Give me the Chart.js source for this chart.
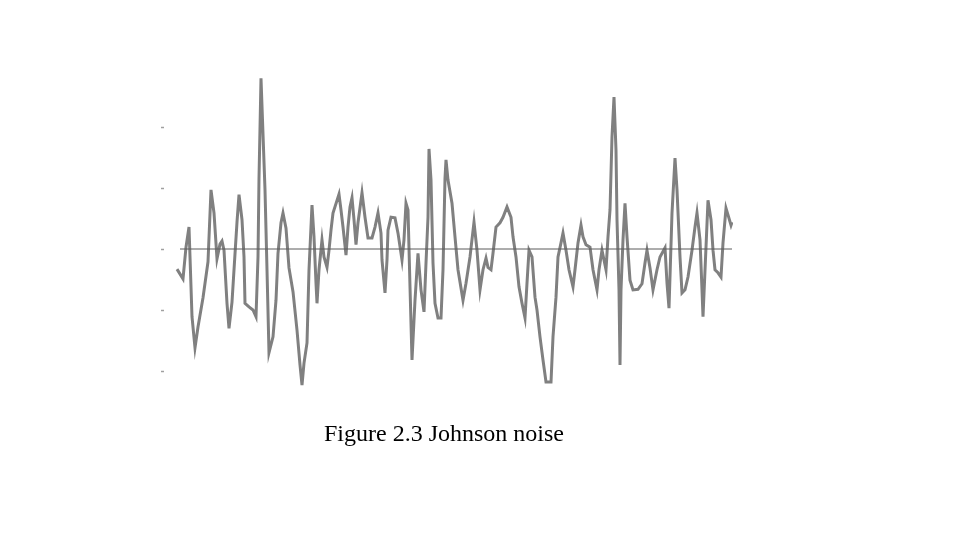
<!DOCTYPE html>
<html>
<head>
<meta charset="utf-8">
<script src="https://cdn.jsdelivr.net/npm/chart.js@4/dist/chart.umd.min.js"></script>
<style>
  html, body { margin: 0; padding: 0; background: #ffffff; }
  #wrap { position: relative; width: 960px; height: 540px; }
  #c { position: absolute; left: 0; top: 0; }
  #caption { position: absolute; left: 324px; top: 421px; font-family: "Liberation Serif", "Times New Roman", serif; font-size: 24px; line-height: 24px; color: #000; white-space: nowrap; }
</style>
</head>
<body>
<div id="wrap">
  <canvas id="c" width="960" height="540"></canvas>
  <div id="caption">Figure 2.3 Johnson noise</div>
</div>
<script>
// Sample times (arbitrary units) and noise voltage (arbitrary units)
const times = [0,6,9,12,15,18,21,26,31,34,37,40,43,45,47,50,52,55,58,60,62,65,67,68,72,76,79,81,82,84,88,90,92,96,99,101,104,106,109,112,116,120,123,125,127,130,132,135,137,139,140,142,145,147,150,152,154,156,162,164,166,169,171,173,175,177,179,181,185,188,191,195,198,201,204,205,208,210,211,214,218,221,225,227,229,231,233,235,238,241,244,247,249,251,252,254,256,258,261,264,266,268,269,271,275,278,281,286,289,293,297,300,303,306,309,311,314,316,319,323,326,330,334,336,339,342,345,348,350,352,355,358,360,363,366,369,374,376,379,381,384,386,389,392,396,398,401,404,406,409,413,416,420,422,425,427,429,431,433,435,437,439,440,442,443,444,446,448,450,453,456,461,465,468,470,473,476,480,483,488,490,492,495,498,500,503,505,508,511,515,518,520,523,525,526,529,531,534,536,538,541,544,546,549,551,554,555];
const noise = [-0.33,-0.49,0.03,0.36,-1.11,-1.62,-1.28,-0.80,-0.21,0.97,0.59,-0.16,0.08,0.13,-0.02,-0.89,-1.30,-0.87,-0.08,0.44,0.89,0.48,-0.13,-0.89,-0.95,-1.00,-1.11,-0.13,1.16,2.80,0.97,-0.34,-1.70,-1.44,-0.84,-0.07,0.43,0.59,0.34,-0.31,-0.70,-1.33,-1.90,-2.23,-1.87,-1.54,-0.34,0.72,0.20,-0.56,-0.89,-0.34,0.15,-0.13,-0.30,-0.02,0.31,0.59,0.90,0.64,0.36,-0.10,0.36,0.69,0.84,0.48,0.07,0.43,0.92,0.52,0.18,0.18,0.36,0.59,0.26,-0.18,-0.72,-0.18,0.31,0.52,0.51,0.26,-0.18,0.15,0.75,0.64,-0.62,-1.82,-0.84,-0.07,-0.67,-1.03,-0.23,0.52,1.64,1.13,-0.23,-0.89,-1.13,-1.13,-0.34,1.16,1.46,1.13,0.75,0.20,-0.34,-0.84,-0.56,-0.13,0.44,-0.02,-0.67,-0.34,-0.15,-0.30,-0.34,-0.07,0.36,0.43,0.52,0.69,0.52,0.20,-0.13,-0.62,-0.89,-1.13,-0.56,-0.02,-0.13,-0.79,-1.00,-1.44,-1.82,-2.18,-2.18,-1.44,-0.79,-0.13,0.10,0.26,-0.02,-0.34,-0.62,-0.34,0.10,0.39,0.20,0.07,0.03,-0.34,-0.67,-0.34,-0.02,-0.18,-0.34,0.20,0.64,1.84,2.49,1.62,0.48,-0.67,-1.90,-0.67,0.15,0.75,0.20,-0.51,-0.67,-0.66,-0.57,-0.23,-0.02,-0.31,-0.67,-0.34,-0.13,0.02,-0.56,-0.97,0.59,1.49,0.97,-0.13,-0.72,-0.67,-0.46,-0.02,0.36,0.59,0.15,-0.67,-1.11,0.03,0.80,0.48,-0.02,-0.34,-0.39,-0.46,0.10,0.67,0.56,0.39,0.44];
const baselineTimes = [3, 555];
const baselineValues = [0, 0];
const yTickValues = [-2, -1, 0, 1, 2];

const noisePoints = times.map((t, i) => ({ x: t, y: noise[i] }));
const basePoints = baselineTimes.map((t, i) => ({ x: t, y: baselineValues[i] }));

const tickMarks = {
  id: 'tickMarks',
  afterDraw(chart) {
    const ys = chart.scales.y;
    const ctx = chart.ctx;
    ctx.save();
    ctx.strokeStyle = '#a0a0a0';
    ctx.lineWidth = 1.5;
    yTickValues.forEach(v => {
      const py = Math.round(ys.getPixelForValue(v)) + 0.5;
      ctx.beginPath();
      ctx.moveTo(chart.chartArea.left - 3, py);
      ctx.lineTo(chart.chartArea.left, py);
      ctx.stroke();
    });
    ctx.restore();
  }
};

new Chart(document.getElementById('c'), {
  type: 'line',
  data: {
    datasets: [
      {
        data: basePoints,
        borderColor: '#5a5a5a',
        borderWidth: 1,
        pointRadius: 0,
        tension: 0
      },
      {
        data: noisePoints,
        borderColor: '#808080',
        borderWidth: 3,
        pointRadius: 0,
        tension: 0,
        borderJoinStyle: 'miter'
      }
    ]
  },
  options: {
    responsive: false,
    animation: false,
    events: [],
    layout: { padding: { left: 164, right: 227, top: 66, bottom: 138.5 } },
    plugins: { legend: { display: false }, tooltip: { enabled: false } },
    scales: {
      x: { type: 'linear', min: -13, max: 556, display: false },
      y: { type: 'linear', min: -2.5, max: 3, display: false }
    }
  },
  plugins: [tickMarks]
});
</script>
</body>
</html>
